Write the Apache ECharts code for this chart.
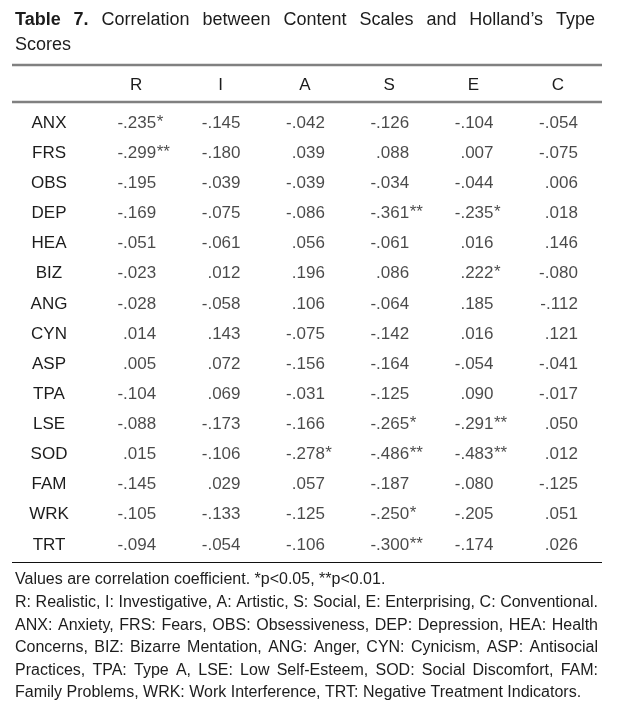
<!DOCTYPE html>
<html><head><meta charset="utf-8">
<script src="https://cdn.jsdelivr.net/npm/echarts@6/dist/echarts.min.js"></script>
<style>html,body{margin:0;padding:0;background:#fff}#c{width:621px;height:706px}</style>
</head><body><div id="c"></div>
<script>
// ---- data ----
const cols = ['R', 'I', 'A', 'S', 'E', 'C'];
const rows = ['ANX', 'FRS', 'OBS', 'DEP', 'HEA', 'BIZ', 'ANG', 'CYN', 'ASP', 'TPA', 'LSE', 'SOD', 'FAM', 'WRK', 'TRT'];
const valR = [-0.235, -0.299, -0.195, -0.169, -0.051, -0.023, -0.028, 0.014, 0.005, -0.104, -0.088, 0.015, -0.145, -0.105, -0.094];
const valI = [-0.145, -0.180, -0.039, -0.075, -0.061, 0.012, -0.058, 0.143, 0.072, 0.069, -0.173, -0.106, 0.029, -0.133, -0.054];
const valA = [-0.042, 0.039, -0.039, -0.086, 0.056, 0.196, 0.106, -0.075, -0.156, -0.031, -0.166, -0.278, 0.057, -0.125, -0.106];
const valS = [-0.126, 0.088, -0.034, -0.361, -0.061, 0.086, -0.064, -0.142, -0.164, -0.125, -0.265, -0.486, -0.187, -0.250, -0.300];
const valE = [-0.104, 0.007, -0.044, -0.235, 0.016, 0.222, 0.185, 0.016, -0.054, 0.090, -0.291, -0.483, -0.080, -0.205, -0.174];
const valC = [-0.054, -0.075, 0.006, 0.018, 0.146, -0.080, -0.112, 0.121, -0.041, -0.017, 0.050, 0.012, -0.125, 0.051, 0.026];
// significance stars per cell (1 = p<0.05, 2 = p<0.01)
const sigR = [1, 2, 0, 0, 0, 0, 0, 0, 0, 0, 0, 0, 0, 0, 0];
const sigI = [0, 0, 0, 0, 0, 0, 0, 0, 0, 0, 0, 0, 0, 0, 0];
const sigA = [0, 0, 0, 0, 0, 0, 0, 0, 0, 0, 0, 1, 0, 0, 0];
const sigS = [0, 0, 0, 2, 0, 0, 0, 0, 0, 0, 1, 2, 0, 1, 2];
const sigE = [0, 0, 0, 1, 0, 1, 0, 0, 0, 0, 2, 2, 0, 0, 0];
const sigC = [0, 0, 0, 0, 0, 0, 0, 0, 0, 0, 0, 0, 0, 0, 0];
const titleLine1 = ['Table', '7.', 'Correlation', 'between', 'Content', 'Scales', 'and', 'Holland\u2019s', 'Type'];
const titleLine2 = 'Scores';
const notes = [
  'Values are correlation coefficient. *p<0.05, **p<0.01.',
  'R: Realistic, I: Investigative, A: Artistic, S: Social, E: Enterprising, C: Conventional.',
  'ANX: Anxiety, FRS: Fears, OBS: Obsessiveness, DEP: Depression, HEA: Health',
  'Concerns, BIZ: Bizarre Mentation, ANG: Anger, CYN: Cynicism, ASP: Antisocial',
  'Practices, TPA: Type A, LSE: Low Self-Esteem, SOD: Social Discomfort, FAM:',
  'Family Problems, WRK: Work Interference, TRT: Negative Treatment Indicators.'
];
const notesJustified = [false, true, true, true, true, false];

// ---- build ----
const vals = [valR, valI, valA, valS, valE, valC];
const sigs = [sigR, sigI, sigA, sigS, sigE, sigC];
const FONT = "'Liberation Sans',Arial,sans-serif";
const INK = '#1c1c1c';
const fmt = v => (v < 0 ? '-' : '') + Math.abs(v).toFixed(3).replace(/^0/, '');

const numData = [], starData = [];
vals.forEach((col, ci) => col.forEach((v, ri) => {
  numData.push([ci, ri, v]);
  if (sigs[ci][ri] > 0) starData.push([ci, ri, sigs[ci][ri]]);
}));

const ctx = document.createElement('canvas').getContext('2d');
function tw(t, size, weight) { ctx.font = (weight || 'normal') + ' ' + size + 'px ' + FONT; return ctx.measureText(t).width; }
function placeWords(words, y, x0, x1, size, justify, boldCount) {
  const ws = words.map((w, i) => tw(w, size, i < boldCount ? 'bold' : 'normal'));
  const sum = ws.reduce((a, b) => a + b, 0);
  const sp = tw(' ', size);
  let gap = (justify && words.length > 1) ? (x1 - x0 - sum) / (words.length - 1) : sp;
  if (gap < sp * 0.6) gap = sp * 0.6;
  let x = x0; const out = [];
  words.forEach((w, i) => {
    out.push({ type: 'text', x: x, y: y, silent: true,
      style: { text: w, fontSize: size, fontFamily: FONT, fontWeight: i < boldCount ? 'bold' : 'normal', fill: INK, verticalAlign: 'middle', align: 'left' } });
    x += ws[i] + gap;
  });
  return out;
}

const graphic = [];
graphic.push(...placeWords(titleLine1, 20, 15, 595, 18, true, 2));
graphic.push(...placeWords([titleLine2], 45, 15, 595, 18, false, 0));
const noteY = [580, 603, 626, 648, 671, 693];
notes.forEach((line, i) => graphic.push(...placeWords(line.split(' '), noteY[i], 15, 598, 16, notesJustified[i], 0)));
// rules
graphic.push({ type: 'line', silent: true, shape: { x1: 12, y1: 65, x2: 602, y2: 65 }, style: { stroke: '#808080', lineWidth: 2.5 } });
graphic.push({ type: 'line', silent: true, shape: { x1: 12, y1: 102, x2: 602, y2: 102 }, style: { stroke: '#808080', lineWidth: 2.5 } });
graphic.push({ type: 'line', silent: true, shape: { x1: 12, y1: 562.5, x2: 602, y2: 562.5 }, style: { stroke: '#111', lineWidth: 1.2 } });

const chart = echarts.init(document.getElementById('c'), null, { renderer: 'canvas' });
chart.setOption({
  animation: false,
  backgroundColor: '#fff',
  grid: { left: 94, top: 108, width: 506, height: 452 },
  xAxis: { type: 'category', data: cols, position: 'top',
    axisLine: { show: false }, axisTick: { show: false }, splitLine: { show: false },
    axisLabel: { margin: 23, verticalAlign: 'middle', fontSize: 17, fontFamily: FONT, color: INK } },
  yAxis: { type: 'category', data: rows, inverse: true,
    axisLine: { show: false }, axisTick: { show: false }, splitLine: { show: false },
    axisLabel: { margin: 45, align: 'center', fontSize: 17, fontFamily: FONT, color: INK } },
  series: [
    { name: 'values', type: 'scatter', data: numData, symbolSize: 0, silent: true,
      itemStyle: { color: 'transparent' },
      label: { show: true, position: 'inside', align: 'right', verticalAlign: 'middle', offset: [20, 0],
        fontSize: 17, fontFamily: FONT, color: INK, formatter: p => fmt(p.value[2]) } },
    { name: 'stars', type: 'scatter', data: starData, symbolSize: 0, silent: true,
      itemStyle: { color: 'transparent' },
      label: { show: true, position: 'inside', align: 'left', verticalAlign: 'middle', offset: [20.5, -1],
        fontSize: 17, fontFamily: FONT, color: INK, formatter: p => '*'.repeat(p.value[2]) } }
  ],
  graphic: graphic
});
</script></body></html>
